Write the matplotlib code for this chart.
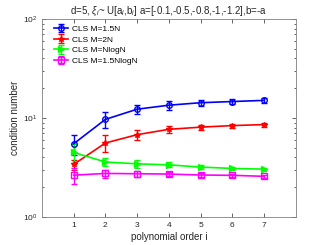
import matplotlib
matplotlib.use("Agg")
import matplotlib.pyplot as plt

plt.rcParams["font.family"] = ["Liberation Sans", "DejaVu Sans"]
plt.rcParams["mathtext.fontset"] = "custom"
plt.rcParams["mathtext.rm"] = "Liberation Sans"
plt.rcParams["mathtext.it"] = "Liberation Sans:italic"

# ---- données ----
ordres = [1, 2, 3, 4, 5, 6, 7]
labels = ["CLS M=1.5N", "CLS M=2N", "CLS M=NlogN", "CLS M=1.5NlogN"]

cond_15N = [5.5, 9.7, 12.3, 13.5, 14.3, 14.7, 15.1]
err_15N = [1.3, 1.8, 1.4, 1.3, 1.1, 0.9, 0.8]
cond_2N = [3.4, 5.6, 6.8, 7.7, 8.1, 8.4, 8.6]
err_2N = [0.4, 1.1, 0.8, 0.6, 0.5, 0.4, 0.4]
cond_NlogN = [4.5, 3.6, 3.45, 3.37, 3.2, 3.1, 3.05]
err_NlogN = [1.0, 0.35, 0.3, 0.2, 0.15, 0.12, 0.1]
cond_15NlogN = [2.65, 2.76, 2.74, 2.72, 2.66, 2.64, 2.58]
err_15NlogN = [0.5, 0.25, 0.2, 0.12, 0.1, 0.08, 0.07]

series = [
    (cond_15N, err_15N, "#0000ff", "o", "none"),
    (cond_2N, err_2N, "#ff0000", "*", "#ff0000"),
    (cond_NlogN, err_NlogN, "#00ff00", ">", "#00ff00"),
    (cond_15NlogN, err_15NlogN, "#ff00ff", "s", "none"),
]

fig = plt.figure(figsize=(3.27, 2.45), dpi=100)
ax = fig.add_axes([0.128, 0.114, 0.777, 0.808])

for (y, e, c, m, fc), lab in zip(series, labels):
    ax.errorbar(ordres, y, yerr=e, color=c, marker=m, markerfacecolor=fc,
                markeredgecolor=c, markersize=4, linewidth=1.2,
                elinewidth=1.0, capsize=2, label=lab)

ax.set_yscale("log")
ax.set_xlim(0, 8)
ax.set_ylim(1, 100)
ax.set_xticks(ordres)
ax.tick_params(axis="both", which="both", direction="in", top=True, right=True,
               labelsize=6, colors="#262626", width=0.5)
ax.tick_params(which="major", length=3)
ax.tick_params(which="minor", length=1.5)
for s in ax.spines.values():
    s.set_color("#808080")
    s.set_linewidth(0.6)

ax.set_xlabel("polynomial order i", fontsize=7, color="#262626", labelpad=2)
ax.set_ylabel("condition number", fontsize=7, color="#262626", labelpad=2)
ax.set_title(r"d=5, $\xi_i$~ U[a$_i$,b$_i$] a=[-0.1,-0.5,-0.8,-1,-1.2],b=-a",
             fontsize=7, color="#262626", pad=4)

ax.legend(loc="upper left", bbox_to_anchor=(0.025, 1.0), frameon=False,
          fontsize=6, handlelength=1.7, borderaxespad=0.3, labelspacing=0.35,
          handletextpad=0.4)

plt.savefig("out.png", dpi=100)
plt.close()
